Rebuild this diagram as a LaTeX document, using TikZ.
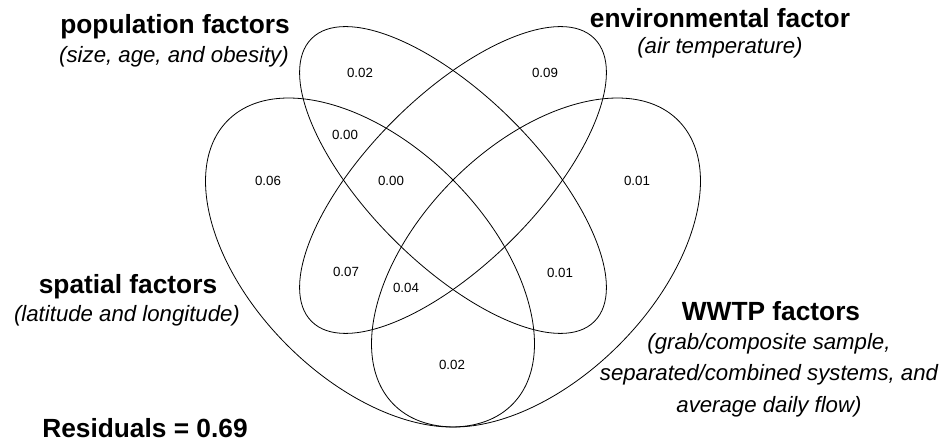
\documentclass[tikz,border=0pt]{standalone}
\usepackage{fontspec}
\setmainfont{Liberation Sans}
\tikzset{
  venn/.style={draw, line width=0.8pt},
  factor/.style={font=\bfseries\fontsize{26.3}{30}\selectfont},
  detail/.style={font=\itshape\fontsize{22.2}{31.5}\selectfont, align=center},
  share/.style={font=\fontsize{13.3}{15}\selectfont}
}
\begin{document}
\begin{tikzpicture}[x=1pt,y=1pt]
\useasboundingbox (0,0) rectangle (951,444);
% the four sets
\draw[venn, shift={(370,181.5)}, rotate=-45] (0,0) ellipse (201 and 117);
\draw[venn, shift={(453,264)}, rotate=-45] (0,0) ellipse (200 and 84);
\draw[venn, shift={(453,264)}, rotate=45] (0,0) ellipse (200 and 84);
\draw[venn, shift={(536,181.5)}, rotate=45] (0,0) ellipse (201 and 117);
% set labels
\node[factor] (pop) at (175,417) {population factors};
\node[detail] (popnote) at (174,387) {(size, age, and obesity)};
\node[factor] (env) at (720,426) {environmental factor};
\node[detail] (envnote) at (720,396) {(air temperature)};
\node[factor] (spa) at (128,157) {spatial factors};
\node[detail] (spanote) at (127,128) {(latitude and longitude)};
\node[factor] (wwtp) at (771,133) {WWTP factors};
\node[detail] (wwtpnote) at (769,69) {(grab/composite sample,\\separated/combined systems, and\\average daily flow)};
\node[factor] (res) at (145,16) {Residuals = 0.69};
% shares
\node[share] (p) at (360,371) {0.02};
\node[share] (e) at (545,371) {0.09};
\node[share] (sp) at (345,309) {0.00};
\node[share] (s) at (268,263) {0.06};
\node[share] (spe) at (391,263) {0.00};
\node[share] (w) at (637,263) {0.01};
\node[share] (se) at (346,172) {0.07};
\node[share] (spew) at (406,156) {0.04};
\node[share] (pw) at (560,171) {0.01};
\node[share] (sw) at (452,79) {0.02};
\end{tikzpicture}
\end{document}
